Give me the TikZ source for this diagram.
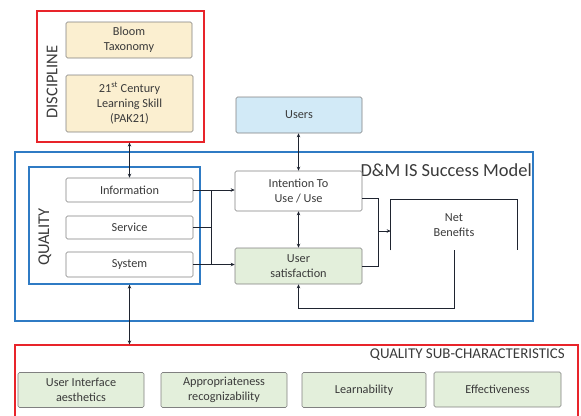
\documentclass[tikz,border=0pt]{standalone}
\usepackage{fontspec}
\setmainfont{Carlito}
\usetikzlibrary{arrows.meta,calc}
\definecolor{frred}{HTML}{E8242A}
\definecolor{frblue}{HTML}{2F7BC4}
\definecolor{beige}{HTML}{FBEFD0}
\definecolor{skyb}{HTML}{D2EAF7}
\definecolor{lgreen}{HTML}{E3EFDB}
\definecolor{bord}{HTML}{808080}
\definecolor{txt}{HTML}{3A3A3A}
\definecolor{conn}{HTML}{1F2430}
\tikzset{
  box/.style={draw=bord, line width=0.6pt, rounded corners=1.5pt, inner sep=0pt, align=center,
    font=\fontsize{12.3}{15.5}\selectfont, text=txt},
  frame/.style={line width=1.2pt, inner sep=0pt},
  conline/.style={draw=conn, line width=0.9pt},
  tip/.style={-{Stealth[length=4pt,width=3.5pt]}},
  bitip/.style={{Stealth[length=4pt,width=3.5pt]}-{Stealth[length=4pt,width=3.5pt]}},
  bigtitle/.style={font=\fontsize{16.5}{18}\selectfont, text=txt, inner sep=0pt},
}
\begin{document}
\begin{tikzpicture}[x=1bp,y=-1bp]
\useasboundingbox (0,0) rectangle (581,415);
% frames
\node[frame, draw=frred, minimum width=167bp, minimum height=131bp] (disc) at (120.5,76.5) {};
\node[frame, draw=frblue, minimum width=518bp, minimum height=169bp] (dm) at (274,236.5) {};
\node[frame, draw=frblue, minimum width=171bp, minimum height=117bp] (qual) at (114.5,225.5) {};
\node[frame, draw=frred, minimum width=563bp, minimum height=74bp] (sub) at (296.5,382) {};
% titles
\node[bigtitle, rotate=90] (disct) at (52,82) {DISCIPLINE};
\node[bigtitle, rotate=90] (qualt) at (45,237) {QUALITY};
\node[font=\fontsize{18.5}{20}\selectfont, text=txt, inner sep=0pt, anchor=east] (dmt) at (532,170) {D\&M IS Success Model};
\node[font=\fontsize{15}{17}\selectfont, text=txt, inner sep=0pt, anchor=east] (subt) at (565,355) {QUALITY SUB-CHARACTERISTICS};
% discipline boxes
\node[box, fill=beige, minimum width=126bp, minimum height=36bp] (bloom) at (129,40) {Bloom\\Taxonomy};
\node[box, fill=beige, minimum width=127bp, minimum height=57bp] (pak) at (129.5,103.5) {21\textsuperscript{st} Century\\Learning Skill\\(PAK21)};
% users
\node[box, fill=skyb, minimum width=126bp, minimum height=36bp] (users) at (299,115) {Users};
% quality boxes
\node[box, fill=white, minimum width=127bp, minimum height=24bp] (info) at (129.5,190) {Information};
\node[box, fill=white, minimum width=127bp, minimum height=23bp] (serv) at (129.5,227.5) {Service};
\node[box, fill=white, minimum width=127bp, minimum height=25bp] (sys) at (129.5,264.5) {System};
% model boxes
\node[box, fill=white, minimum width=127bp, minimum height=40bp] (intent) at (298.5,191) {Intention To\\Use / Use};
\node[box, fill=lgreen, minimum width=127bp, minimum height=36bp] (usat) at (298.5,266) {User\\satisfaction};
\node[box, draw=none, minimum width=126bp, minimum height=50bp] (net) at (454,225) {Net\\Benefits};
\draw[draw=conn, line width=0.7pt] (net.south west) -- (net.north west) -- (net.north east) -- (net.south east);
% sub-characteristics
\node[box, fill=lgreen, minimum width=126bp, minimum height=35bp] (uia) at (81,390) {User Interface\\aesthetics};
\node[box, fill=lgreen, minimum width=126bp, minimum height=35bp] (app) at (224,390) {Appropriateness\\recognizability};
\node[box, fill=lgreen, minimum width=124bp, minimum height=35bp] (learn) at (364,390) {Learnability};
\node[box, fill=lgreen, minimum width=127bp, minimum height=35bp] (eff) at (497.5,389.5) {Effectiveness};
% connectors
\coordinate (busL) at (211,0);
\coordinate (busR) at (378,0);
\coordinate (fb) at (0,308);
\draw[conline, bitip] (info.north |- disc.south) -- (info.north);
\draw[conline, bitip] (users.south -| intent.north) -- (intent.north);
\draw[conline, bitip] (intent.south) -- (usat.north);
\draw[conline, bitip] (info.south |- qual.south) -- (info.south |- sub.north);
\draw[conline] (info.east) -- (info.east -| busL);
\draw[conline] (serv.east) -- (serv.east -| busL);
\draw[conline] (sys.east) -- (sys.east -| busL);
\draw[conline] (info.east -| busL) -- (sys.east -| busL);
\draw[conline, tip] (info.east -| busL) -- (info.east -| intent.west);
\draw[conline, tip] (sys.east -| busL) -- (sys.east -| usat.west);
\coordinate (ie) at ($(intent.east)+(0,7)$);
\coordinate (nw) at ($(net.west)+(0,6)$);
\draw[conline] (ie) -- (ie -| busR) -- (usat.east -| busR) -- (usat.east);
\draw[conline, tip] (nw -| busR) -- (nw);
\draw[conline, tip] (net.south) -- (net.south |- fb) -- (usat.south |- fb) -- (usat.south);
\end{tikzpicture}
\end{document}
